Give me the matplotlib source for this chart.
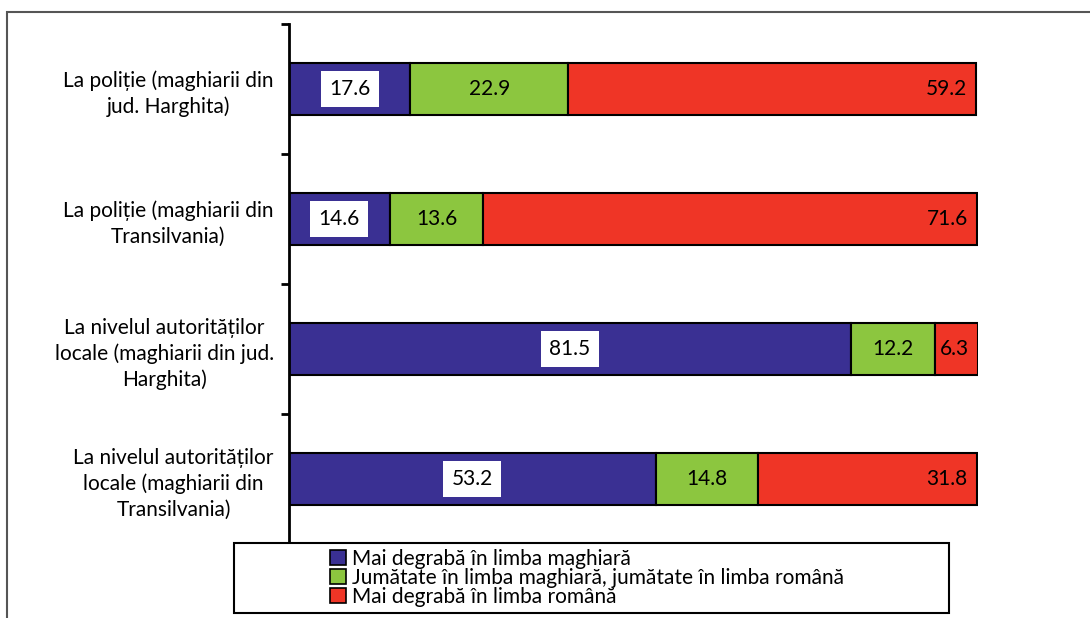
import matplotlib.pyplot as plt
from matplotlib.patches import Rectangle, Patch

plt.rcParams['font.family'] = ['Lato', 'DejaVu Sans']

categories = [
    'La poliție (maghiarii din\njud. Harghita)',
    'La poliție (maghiarii din\nTransilvania)',
    'La nivelul autorităților\nlocale (maghiarii din jud.\nHarghita)',
    'La nivelul autorităților\nlocale (maghiarii din\nTransilvania)',
]
maghiara = [17.6, 14.6, 81.5, 53.2]
jumatate = [22.9, 13.6, 12.2, 14.8]
romana = [59.2, 71.6, 6.3, 31.8]
series_names = [
    'Mai degrabă în limba maghiară',
    'Jumătate în limba maghiară, jumătate în limba română',
    'Mai degrabă în limba română',
]
colors = ['#3a3093', '#8cc63f', '#ef3526']

W, H = 1090, 618
fig = plt.figure(figsize=(W / 100, H / 100), dpi=100)
ax = fig.add_axes([289 / W, 1 - 544 / H, 689 / W, 520 / H])

ypos = list(range(len(categories)))
fs = 15

mid = [a + b for a, b in zip(maghiara, jumatate)]
ax.barh(ypos, maghiara, height=0.4, color=colors[0], edgecolor='black', linewidth=1.5, zorder=2)
ax.barh(ypos, jumatate, left=maghiara, height=0.4, color=colors[1], edgecolor='black', linewidth=1.5, zorder=2)
ax.barh(ypos, romana, left=mid, height=0.4, color=colors[2], edgecolor='black', linewidth=1.5, zorder=2)

for i in ypos:
    ax.text(maghiara[i] / 2, i, f'{maghiara[i]:.1f}', ha='center', va='center', fontsize=fs,
            bbox=dict(boxstyle='square,pad=0.4', facecolor='white', edgecolor='none'), zorder=3)
    ax.text(maghiara[i] + jumatate[i] / 2, i, f'{jumatate[i]:.1f}', ha='center', va='center',
            fontsize=fs, zorder=3)
    ax.text(mid[i] + romana[i] - 1.3, i, f'{romana[i]:.1f}', ha='right', va='center',
            fontsize=fs, zorder=3)

ax.set_xlim(0, 100)
ax.set_ylim(3.5, -0.5)
ax.set_yticks(ypos)
ax.set_yticklabels(categories, fontsize=fs, multialignment='center', linespacing=1.35)
ax.tick_params(axis='y', which='major', length=0, pad=11)
ax.set_yticks([-0.5, 0.5, 1.5, 2.5, 3.5], minor=True)
ax.tick_params(axis='y', which='minor', length=6, width=2, direction='out')
ax.set_xticks([])
for s in ['top', 'right', 'bottom']:
    ax.spines[s].set_visible(False)
ax.spines['left'].set_linewidth(2)

# outer frame and legend box
fig.patches.append(Rectangle((7 / W, -0.1), 1.2, (H - 12) / H + 0.1, transform=fig.transFigure,
                             fill=False, edgecolor='#555555', linewidth=1.5))
fig.patches.append(Rectangle((234 / W, 1 - 613 / H), 715 / W, 70 / H, transform=fig.transFigure,
                             facecolor='white', edgecolor='black', linewidth=1.5, zorder=4))

handles = [Patch(facecolor=c, edgecolor='black', linewidth=1.2) for c in colors]
fig.legend(handles, series_names, loc='upper left', bbox_to_anchor=(330 / W, 1 - 549 / H),
           frameon=False, fontsize=fs, borderpad=0, borderaxespad=0, handlelength=0.75,
           handleheight=0.7, handletextpad=0.3, labelspacing=-0.05)

fig.savefig('out.png', dpi=100)
